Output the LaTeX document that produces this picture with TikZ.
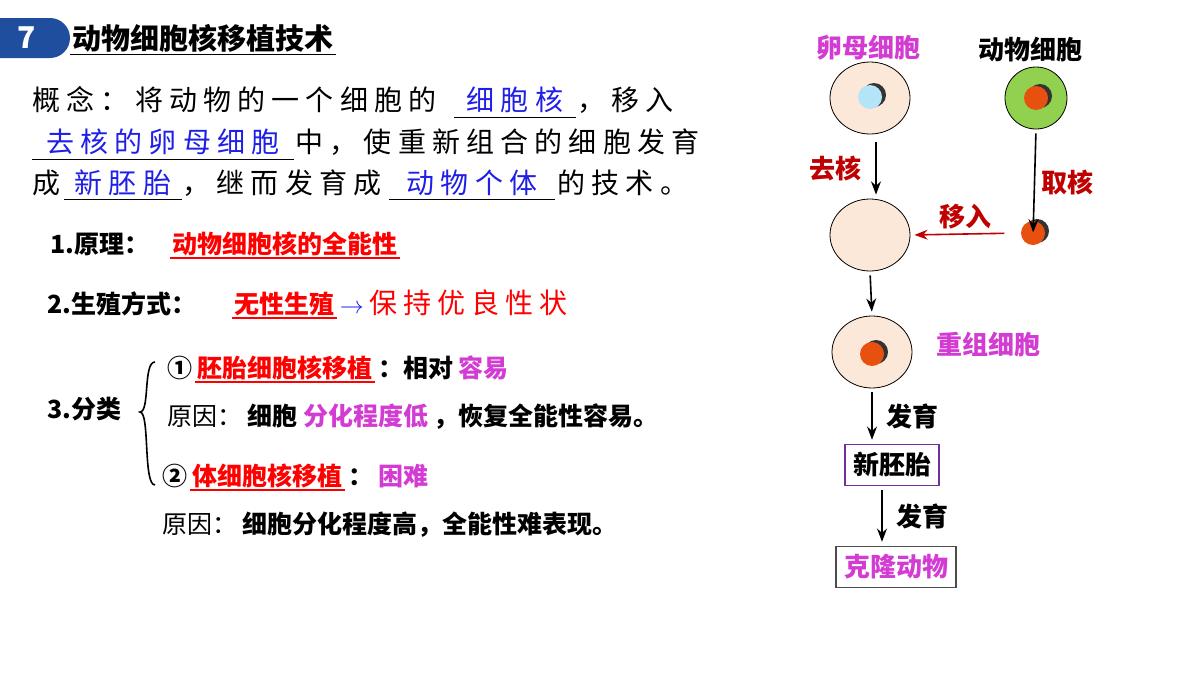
\documentclass[tikz,border=0pt]{standalone}
\usepackage{fontspec}
\setmainfont{Noto Sans CJK SC}
\newfontfamily\songti[LetterSpace=22]{Noto Sans CJK SC}
\usetikzlibrary{positioning,shapes.geometric,arrows.meta}
\definecolor{hdblue}{HTML}{1F4E9E}
\definecolor{fillred}{HTML}{FF0000}
\definecolor{darkred}{HTML}{C00000}
\definecolor{mag}{HTML}{D23CD2}
\definecolor{ansblue}{HTML}{1F1FE6}
\definecolor{cellfill}{HTML}{FCE8D8}
\definecolor{nucorange}{HTML}{E85010}
\definecolor{nucblue}{HTML}{B4E4F8}
\definecolor{greencell}{HTML}{92D050}
\definecolor{boxpurple}{HTML}{7030A0}
\newcommand{\nucl}[3]{%
  \fill[black!80] ([xshift=2pt,yshift=1pt]#2) circle (6pt);
  \node[nucleus, fill=#3] (#1) at (#2) {};}
\begin{document}
\begin{tikzpicture}[x=0.5pt, y=-0.5pt, >=Stealth, semithick]
        \tikzset{
           seg/.style={
                        inner sep=1pt,
                        font=\bfseries\fontsize{12.5}{14}\selectfont,
                        text=black
                       },
           serif/.style={
                        inner sep=1pt,
                        font=\songti\fontsize{14}{16}\selectfont,
                        text=black
                       },
           blank/.style={
                        serif,
                        text=ansblue,
                        minimum width=#1,
                        inner sep=2pt
                       },
           cell/.style={
                        ellipse,
                        draw=black,
                        thin,
                        fill=cellfill,
                        minimum width=40pt,
                        minimum height=36pt,
                        inner sep=0pt
                       },
           nucleus/.style={
                        circle,
                        minimum size=12pt,
                        inner sep=0pt
                       },
           flowbox/.style={
                        rectangle,
                        draw=#1,
                        thick,
                        fill=white,
                        inner sep=4pt,
                        font=\bfseries\fontsize{13}{15}\selectfont
                       },
           lbl/.style={
                        font=\bfseries\fontsize{13}{15}\selectfont,
                        inner sep=1pt
                       },
           flow/.style={
                        ->,
                        thick,
                        shorten >=2pt,
                        shorten <=2pt
                       },
                 };
        \useasboundingbox (0,0) rectangle (1200,675);
    %--------------------
        \fill[hdblue] (0,18) -- (50,18) arc[start angle=90, end angle=-90, radius=10pt] -- (0,58) -- cycle;
        \node[text=white, font=\bfseries\fontsize{15}{17}\selectfont] (num) at (27,38) {7};
        \node[seg, anchor=west, font=\bfseries\fontsize{14.5}{16}\selectfont] (title) at (70,38) {动物细胞核移植技术};
        \draw[thick] (title.south west) -- (title.south east);
    %--------------------
        \node[serif, anchor=base west] (c1)  at (30,110)  {概念：将动物的一个细胞的};
        \node[blank=60pt, anchor=base]  (b1)  at (515,110) {细胞核};
        \node[serif, anchor=base west] (c2)  at (575,110) {，移入};
        \node[blank=130pt, anchor=base] (b2)  at (163,152) {去核的卵母细胞};
        \node[serif, anchor=base west] (c3)  at (293,152) {中，使重新组合的细胞发育};
        \node[serif, anchor=base west] (c4)  at (30,193)  {成};
        \node[blank=58pt, anchor=base]  (b3)  at (123,193) {新胚胎};
        \node[serif, anchor=base west] (c5)  at (180,193) {，继而发育成};
        \node[blank=82pt, anchor=base]  (b4)  at (472,193) {动物个体};
        \node[serif, anchor=base west] (c6)  at (555,193) {的技术。};
        \foreach \b in {b1,b2,b3,b4}
            \draw[thin] (\b.south west) -- (\b.south east);
    %--------------------
        \node[seg, anchor=base west] (p1) at (48,253) {1.原理：};
        \node[seg, anchor=base west, text=fillred] (p1a) at (170,253) {动物细胞核的全能性};
        \draw[fillred, thick] (p1a.south west) -- (p1a.south east);

        \node[seg, anchor=base west] (p2) at (45,313) {2.生殖方式：};
        \node[seg, anchor=base west, text=fillred] (p2a) at (232,313) {无性生殖};
        \draw[fillred, thick] (p2a.south west) -- (p2a.south east);
        \node[anchor=base west, inner sep=1pt, text=ansblue, font=\bfseries\fontsize{13}{15}\selectfont] (p2b) [base right=0pt of p2a] {$\rightarrow$};
        \node[serif, anchor=base west, text=fillred] (p2c) [base right=0pt of p2b] {保持优良性状};

        \node[seg, anchor=base west] (p3) at (45,418) {3.分类};
        \draw[thick] (155,362) .. controls (143,362) and (150,412) .. (140,412)
                               .. controls (150,412) and (143,485) .. (155,485);

        \node[seg, anchor=base west] (k1) at (165,377) {①};
        \node[seg, anchor=base west, text=fillred] (k1a) [base right=0pt of k1] {胚胎细胞核移植};
        \draw[fillred, thick] (k1a.south west) -- (k1a.south east);
        \node[seg, anchor=base west] (k1b) [base right=0pt of k1a] {：相对};
        \node[seg, anchor=base west, text=mag] (k1c) [base right=0pt of k1b] {容易};

        \node[seg, anchor=base west, font=\fontsize{12.5}{14}\selectfont] (r1) at (165,425) {原因：};
        \node[seg, anchor=base west] (r1a) [base right=0pt of r1] {细胞};
        \node[seg, anchor=base west, text=mag] (r1b) [base right=0pt of r1a] {分化程度低};
        \node[seg, anchor=base west] (r1c) [base right=0pt of r1b] {，恢复全能性容易。};

        \node[seg, anchor=base west] (k2) at (160,485) {②};
        \node[seg, anchor=base west, text=fillred] (k2a) [base right=0pt of k2] {体细胞核移植};
        \draw[fillred, thick] (k2a.south west) -- (k2a.south east);
        \node[seg, anchor=base west] (k2b) [base right=0pt of k2a] {：};
        \node[seg, anchor=base west, text=mag] (k2c) [base right=0pt of k2b] {困难};

        \node[seg, anchor=base west, font=\fontsize{12.5}{14}\selectfont] (r2) at (160,533) {原因：};
        \node[seg, anchor=base west] (r2a) [base right=0pt of r2] {细胞分化程度高，全能性难表现。};
    %--------------------
        \node[cell] (egg) at (870,98) {};
        \nucl{eggNuc}{870,97}{nucblue}
        \node[lbl, text=mag] (eggLbl) at (868,48) {卵母细胞};

        \node[cell, fill=greencell, minimum width=31pt, minimum height=31pt] (donor) at (1036,98) {};
        \nucl{donorNuc}{1036,98}{nucorange}
        \node[lbl] (donorLbl) at (1030,50) {动物细胞};

        \node[cell] (enucl) at (870,235) {};
        \nucl{freeNuc}{1033,233}{nucorange}

        \node[cell] (recomb) at (872,352) {};
        \nucl{recNuc}{872,354}{nucorange}
        \node[lbl, text=mag] (recLbl) at (988,345) {重组细胞};

        \node[flowbox=boxpurple] (embryo) at (892,465) {新胚胎};
        \node[flowbox=black!70, text=mag] (clone) at (896,567) {克隆动物};
    %--------------------
        \draw[flow] (876,138) -- (enucl.north -| 876,0) node[midway, left=6pt, lbl, text=darkred] {去核};
        \draw[flow] (donor.south) -- ([yshift=-8pt]freeNuc.north) node[midway, right=2pt, lbl, text=darkred] {取核};
        \draw[flow, darkred, shorten <=8pt] (freeNuc.west) -- (enucl.east) node[midway, above=1pt, lbl, text=darkred] {移入};
        \draw[flow] (enucl.south) -- (recomb.north);
        \draw[flow] (recomb.south) -- (embryo.north -| recomb.south) node[midway, right=6pt, lbl] {发育};
        \draw[flow] (embryo.south -| 882,0) -- (clone.north -| 882,0) node[midway, right=6pt, lbl] {发育};
\end{tikzpicture}
\end{document}
